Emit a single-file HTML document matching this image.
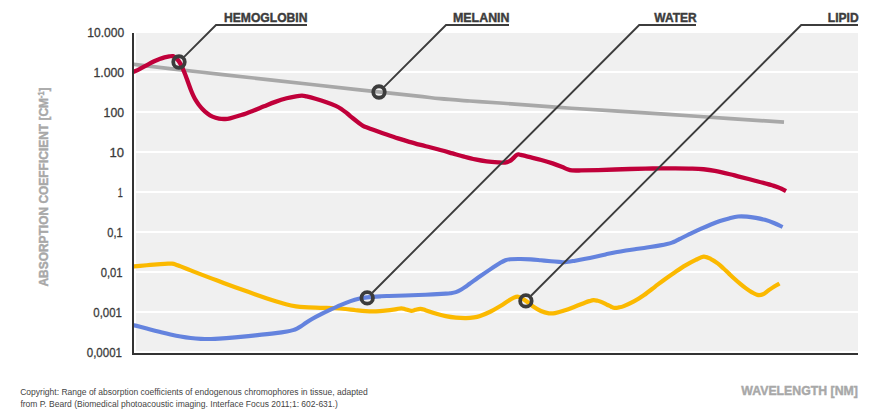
<!DOCTYPE html>
<html><head><meta charset="utf-8"><title>Absorption coefficients</title>
<style>html,body{margin:0;padding:0;background:#fff;width:890px;height:415px;overflow:hidden}svg{display:block}</style>
</head><body>
<svg width="890" height="415" viewBox="0 0 890 415">
<defs><clipPath id="pc"><rect x="134" y="0" width="760" height="415"/></clipPath></defs>
<rect x="136" y="33" width="722" height="318" fill="#f0f0f0"/>
<rect x="136" y="71" width="722" height="2" fill="#ffffff"/>
<rect x="136" y="111" width="722" height="2" fill="#ffffff"/>
<rect x="136" y="151" width="722" height="2" fill="#ffffff"/>
<rect x="136" y="191" width="722" height="2" fill="#ffffff"/>
<rect x="136" y="231" width="722" height="2" fill="#ffffff"/>
<rect x="136" y="271" width="722" height="2" fill="#ffffff"/>
<rect x="136" y="311" width="722" height="2" fill="#ffffff"/>
<g clip-path="url(#pc)" fill="none" stroke-linejoin="round">
<path d="M130 64C141.67 65.33 176.67 69.37 200 72C223.33 74.63 244.17 76.92 270 79.8C295.83 82.68 330.72 86.63 355 89.3C379.28 91.97 401.53 94.23 415.7 95.8C429.87 97.37 430.95 97.83 440 98.7C449.05 99.57 460 100.28 470 101C480 101.72 485.77 101.97 500 103C514.23 104.03 536.4 105.88 555.4 107.2C574.4 108.52 589.9 109.35 614 110.9C638.1 112.45 671.67 114.62 700 116.5C728.33 118.38 770 121.25 784 122.2" stroke="#a8a8a8" stroke-width="3.7"/>
<path d="M130 73.4C130.68 73.1 132.52 72.31 134.1 71.59C135.68 70.88 137.77 69.96 139.5 69.1C141.23 68.25 142.75 67.43 144.5 66.47C146.25 65.52 148.28 64.29 150 63.38C151.72 62.46 153.2 61.7 154.8 60.97C156.4 60.25 157.98 59.6 159.6 59.01C161.22 58.42 162.88 57.85 164.5 57.42C166.12 56.99 167.88 56.63 169.3 56.41C170.72 56.19 171.88 55.83 173 56.1C174.12 56.37 175.07 57.26 176 58.06C176.93 58.85 177.73 59.67 178.6 60.85C179.47 62.03 180.45 63.74 181.2 65.14C181.95 66.55 182.43 67.73 183.1 69.28C183.77 70.83 184.58 72.86 185.2 74.44C185.82 76.01 186.25 77.21 186.8 78.73C187.35 80.25 187.77 81.55 188.5 83.56C189.23 85.58 190.4 88.78 191.2 90.8C192 92.83 192.6 94.21 193.3 95.7C194 97.19 194.52 98.25 195.4 99.71C196.28 101.17 197.43 102.92 198.6 104.46C199.77 105.99 200.93 107.41 202.4 108.93C203.87 110.45 205.72 112.27 207.4 113.56C209.08 114.84 210.57 115.81 212.5 116.65C214.43 117.49 216.92 118.21 219 118.6C221.08 118.99 223.17 119.04 225 118.99C226.83 118.94 227.28 118.95 230 118.3C232.72 117.65 237.53 116.3 241.3 115.07C245.07 113.85 248.82 112.42 252.6 110.96C256.38 109.5 260.22 107.83 264 106.31C267.78 104.8 271.53 103.22 275.3 101.88C279.07 100.53 283.15 99.21 286.6 98.27C290.05 97.34 293.43 96.71 296 96.27C298.57 95.82 300.25 95.58 302 95.6C303.75 95.62 304.25 95.85 306.5 96.38C308.75 96.92 312.3 97.87 315.5 98.81C318.7 99.75 322.32 100.83 325.7 102.01C329.08 103.18 333.2 104.7 335.8 105.85C338.4 107 339.43 107.68 341.3 108.92C343.17 110.15 345.12 111.75 347 113.27C348.88 114.79 350.72 116.49 352.6 118.03C354.48 119.57 356.57 121.21 358.3 122.51C360.03 123.8 361.55 124.97 363 125.8C364.45 126.63 364.95 126.71 367 127.5C369.05 128.29 372.03 129.36 375.3 130.53C378.57 131.7 382.82 133.21 386.6 134.52C390.38 135.82 394.22 137.14 398 138.36C401.78 139.58 405.53 140.74 409.3 141.82C413.07 142.91 417.15 143.99 420.6 144.9C424.05 145.81 426.55 146.39 430 147.28C433.45 148.17 437.53 149.23 441.3 150.25C445.07 151.27 448.82 152.36 452.6 153.42C456.38 154.48 460.22 155.61 464 156.61C467.78 157.6 471.53 158.59 475.3 159.38C479.07 160.16 482.82 160.84 486.6 161.35C490.38 161.85 494.93 162.2 498 162.41C501.07 162.62 503.08 162.8 505 162.6C506.92 162.4 508.08 161.97 509.5 161.2C510.92 160.43 512.22 159.1 513.5 158C514.78 156.9 516.02 155.12 517.2 154.6C518.38 154.08 518.47 154.47 520.6 154.9C522.73 155.33 526.55 156.31 530 157.16C533.45 158.01 537.53 158.96 541.3 160C545.07 161.04 549.2 162.26 552.6 163.38C556 164.51 559.22 165.78 561.7 166.76C564.18 167.75 565.78 168.69 567.5 169.3C569.22 169.91 569.75 170.21 572 170.4C574.25 170.59 576.67 170.51 581 170.45C585.33 170.39 589.83 170.3 598 170.06C606.17 169.81 620.9 169.27 630 169C639.1 168.74 645.05 168.59 652.6 168.48C660.15 168.36 668.68 168.29 675.3 168.3C681.92 168.31 687.58 168.38 692.3 168.54C697.02 168.7 699.83 168.86 703.6 169.25C707.37 169.64 710.5 170.06 714.9 170.89C719.3 171.72 726.15 173.34 730 174.25C733.85 175.15 733.67 175.18 738 176.3C742.33 177.41 750.02 179.36 756 180.96C761.98 182.55 769.73 184.6 773.9 185.86C778.07 187.13 778.98 187.65 781 188.54C783.02 189.43 785.17 190.76 786 191.2" stroke="#c0003a" stroke-width="4.3"/>
<path d="M130 266.8C130.67 266.74 132.32 266.58 134 266.42C135.68 266.27 137.4 266.11 140.1 265.87C142.8 265.62 146.82 265.24 150.2 264.95C153.58 264.67 157.43 264.36 160.4 264.16C163.37 263.95 166.07 263.78 168 263.7C169.93 263.62 170.75 263.58 172 263.7C173.25 263.82 174.07 263.95 175.5 264.4C176.93 264.85 178.07 265.41 180.6 266.41C183.13 267.4 187.32 269.06 190.7 270.39C194.08 271.72 196.35 272.62 200.9 274.36C205.45 276.1 212.28 278.71 218 280.84C223.72 282.98 228.95 284.9 235.2 287.17C241.45 289.43 248.75 292.08 255.5 294.43C262.25 296.79 270.63 299.66 275.7 301.29C280.77 302.92 282.52 303.37 285.9 304.21C289.28 305.04 292.97 305.81 296 306.31C299.03 306.81 300.07 306.97 304.1 307.22C308.13 307.46 314.98 307.61 320.2 307.78C325.42 307.95 331.18 308.02 335.4 308.23C339.62 308.44 342.12 308.69 345.5 309.02C348.88 309.36 352.32 309.87 355.7 310.23C359.08 310.59 362.43 310.99 365.8 311.18C369.17 311.36 372.7 311.42 375.9 311.34C379.1 311.26 381.8 311 385 310.68C388.2 310.35 392.4 309.8 395.1 309.4C397.8 309 399.52 308.33 401.2 308.3C402.88 308.27 403.52 308.77 405.2 309.2C406.88 309.63 409.6 310.8 411.3 310.9C413 311 413.88 310.15 415.4 309.8C416.92 309.45 418.72 308.73 420.4 308.8C422.08 308.87 422.97 309.4 425.5 310.2C428.03 311 432.23 312.61 435.6 313.6C438.97 314.59 442.32 315.47 445.7 316.15C449.08 316.82 452.52 317.32 455.9 317.65C459.28 317.98 462.97 318.16 466 318.12C469.03 318.09 471.75 317.81 474.1 317.44C476.45 317.07 477.42 316.87 480.1 315.93C482.78 314.98 486.82 313.41 490.2 311.76C493.58 310.12 497.35 307.91 500.4 306.07C503.45 304.23 506.32 302.08 508.5 300.72C510.68 299.35 511.98 298.56 513.5 297.87C515.02 297.19 516.27 296.57 517.6 296.6C518.93 296.63 520.1 297.35 521.5 298.08C522.9 298.8 524.12 299.62 526 300.97C527.88 302.32 530.32 304.49 532.8 306.16C535.28 307.83 538.22 309.79 540.9 310.99C543.58 312.18 546.55 312.96 548.9 313.31C551.25 313.66 552.3 313.6 555 313.1C557.7 312.6 561.73 311.42 565.1 310.33C568.47 309.23 571.82 307.84 575.2 306.53C578.58 305.23 583.02 303.41 585.4 302.5C587.78 301.6 588.15 301.5 589.5 301.12C590.85 300.73 592.22 300.28 593.5 300.2C594.78 300.12 596.03 300.41 597.2 300.64C598.37 300.88 598.77 300.89 600.5 301.61C602.23 302.34 605.82 304.16 607.6 305.01C609.38 305.85 610.02 306.2 611.2 306.69C612.38 307.17 613.43 307.78 614.7 307.9C615.97 308.02 617.28 307.74 618.8 307.43C620.32 307.13 621.28 307.08 623.8 306.09C626.32 305.09 630.52 303.31 633.9 301.46C637.28 299.62 640.55 297.5 644.1 295.01C647.65 292.53 651.67 289.23 655.2 286.55C658.73 283.87 661.93 281.39 665.3 278.95C668.67 276.51 672.03 274.18 675.4 271.92C678.77 269.67 682.12 267.42 685.5 265.42C688.88 263.41 692.65 261.37 695.7 259.9C698.75 258.43 701.27 256.74 703.8 256.6C706.33 256.46 708.58 257.91 710.9 259.03C713.22 260.16 715.63 261.81 717.7 263.34C719.77 264.88 721.42 266.53 723.3 268.25C725.18 269.97 727.1 271.86 729 273.65C730.9 275.44 732.82 277.27 734.7 278.97C736.58 280.68 738.42 282.31 740.3 283.88C742.18 285.45 744.12 287.02 746 288.39C747.88 289.77 749.72 291.03 751.6 292.11C753.48 293.19 755.4 294.54 757.3 294.9C759.2 295.26 761.12 295.07 763 294.3C764.88 293.53 766.72 291.58 768.6 290.27C770.48 288.96 772.48 287.55 774.3 286.42C776.12 285.29 778.63 283.99 779.5 283.5" stroke="#fbb900" stroke-width="4.2"/>
<path d="M130 324.5C130.67 324.63 132.32 324.92 134 325.31C135.68 325.69 137.4 326.12 140.1 326.81C142.8 327.5 146.82 328.57 150.2 329.44C153.58 330.31 157.02 331.2 160.4 332.03C163.78 332.87 167.13 333.71 170.5 334.45C173.87 335.19 177.23 335.91 180.6 336.5C183.97 337.09 187.32 337.61 190.7 338C194.08 338.38 197.52 338.66 200.9 338.83C204.28 338.99 207.97 339.02 211 338.99C214.03 338.97 215.07 338.94 219.1 338.67C223.13 338.39 229.13 337.9 235.2 337.35C241.27 336.8 248.75 336.08 255.5 335.37C262.25 334.67 270.45 333.78 275.7 333.13C280.95 332.48 284.12 331.97 287 331.47C289.88 330.97 291.33 330.61 293 330.14C294.67 329.67 295.67 329.27 297 328.62C298.33 327.98 299.5 327.23 301 326.25C302.5 325.27 304.17 323.95 306 322.73C307.83 321.5 309.63 320.27 312 318.91C314.37 317.55 317.13 316.12 320.2 314.57C323.27 313.02 327.02 311.2 330.4 309.61C333.78 308.03 337.13 306.47 340.5 305.05C343.87 303.63 347.57 302.15 350.6 301.1C353.63 300.05 355.92 299.37 358.7 298.75C361.48 298.13 363.58 297.78 367.3 297.38C371.02 296.97 377.37 296.56 381 296.32C384.63 296.09 385.07 296.11 389.1 295.97C393.13 295.82 399.13 295.65 405.2 295.43C411.27 295.22 418.75 294.99 425.5 294.7C432.25 294.4 441.48 293.91 445.7 293.66C449.92 293.41 449.1 293.46 450.8 293.2C452.5 292.94 454.22 292.67 455.9 292.1C457.58 291.53 459.22 290.74 460.9 289.8C462.58 288.86 464.48 287.5 466 286.45C467.52 285.4 467.65 285.21 470 283.51C472.35 281.81 476.73 278.64 480.1 276.27C483.47 273.91 486.82 271.59 490.2 269.34C493.58 267.1 497.87 264.32 500.4 262.8C502.93 261.27 503.72 260.8 505.4 260.2C507.08 259.6 507.97 259.4 510.5 259.2C513.03 259 517.23 258.94 520.6 258.98C523.97 259.01 527.32 259.18 530.7 259.4C534.08 259.62 537.52 259.99 540.9 260.3C544.28 260.61 547.98 260.99 551 261.25C554.02 261.51 556.65 261.7 559 261.86C561.35 262.01 562.4 262.4 565.1 262.2C567.8 262 571.82 261.22 575.2 260.65C578.58 260.09 582.02 259.46 585.4 258.8C588.78 258.13 592.13 257.41 595.5 256.68C598.87 255.94 602.23 255.13 605.6 254.4C608.97 253.67 612.32 252.93 615.7 252.28C619.08 251.62 622.52 251.02 625.9 250.47C629.28 249.93 632.97 249.43 636 249.01C639.03 248.59 641.75 248.28 644.1 247.95C646.45 247.63 647.42 247.48 650.1 247.05C652.78 246.62 657.38 245.87 660.2 245.36C663.02 244.85 665.03 244.45 667 243.99C668.97 243.53 670.5 243.12 672 242.6C673.5 242.08 674.58 241.56 676 240.9C677.42 240.24 678.07 239.83 680.5 238.62C682.93 237.42 687.23 235.29 690.6 233.68C693.97 232.06 697.32 230.49 700.7 228.96C704.08 227.43 707.68 225.83 710.9 224.51C714.12 223.19 716.98 222.06 720 221.04C723.02 220.03 726 219.18 729 218.43C732 217.67 735 216.8 738 216.5C741 216.2 744 216.37 747 216.6C750 216.83 753.02 217.34 756 217.88C758.98 218.42 761.92 218.99 764.9 219.84C767.88 220.7 770.95 221.81 773.9 223.01C776.85 224.2 781.15 226.33 782.6 227" stroke="#6483de" stroke-width="4.1"/>
</g>
<rect x="132" y="33" width="2" height="322" fill="#333333"/>
<rect x="132" y="353" width="726" height="2" fill="#333333"/>
<path d="M184.13 56.87 L216 25 L307 25" fill="none" stroke="#3c3c3c" stroke-width="1.9" stroke-linejoin="miter"/>
<path d="M384.13 86.87 L446 25 L509 25" fill="none" stroke="#3c3c3c" stroke-width="1.9" stroke-linejoin="miter"/>
<path d="M372.32 292.77 L639.2 25 L696 25" fill="none" stroke="#3c3c3c" stroke-width="1.9" stroke-linejoin="miter"/>
<path d="M531.02 295.77 L801.2 25 L858 25" fill="none" stroke="#3c3c3c" stroke-width="1.9" stroke-linejoin="miter"/>
<circle cx="179" cy="62" r="5.75" fill="none" stroke="#3c3c3c" stroke-width="3.8"/>
<circle cx="379" cy="92" r="5.75" fill="none" stroke="#3c3c3c" stroke-width="3.8"/>
<circle cx="367.2" cy="297.9" r="5.75" fill="none" stroke="#3c3c3c" stroke-width="3.8"/>
<circle cx="525.9" cy="300.9" r="5.75" fill="none" stroke="#3c3c3c" stroke-width="3.8"/>
<text x="224" y="21.9" font-family="'Liberation Sans', Arial, sans-serif" font-weight="bold" font-size="13.6" fill="#3c3c3c" stroke="#3c3c3c" stroke-width="0.45" textLength="83.5" lengthAdjust="spacingAndGlyphs">HEMOGLOBIN</text>
<text x="453" y="21.9" font-family="'Liberation Sans', Arial, sans-serif" font-weight="bold" font-size="13.6" fill="#3c3c3c" stroke="#3c3c3c" stroke-width="0.45" textLength="56.5" lengthAdjust="spacingAndGlyphs">MELANIN</text>
<text x="654.3" y="21.9" font-family="'Liberation Sans', Arial, sans-serif" font-weight="bold" font-size="13.6" fill="#3c3c3c" stroke="#3c3c3c" stroke-width="0.45" textLength="42.5" lengthAdjust="spacingAndGlyphs">WATER</text>
<text x="827.8" y="21.9" font-family="'Liberation Sans', Arial, sans-serif" font-weight="bold" font-size="13.6" fill="#3c3c3c" stroke="#3c3c3c" stroke-width="0.45" textLength="30.8" lengthAdjust="spacingAndGlyphs">LIPID</text>
<text x="87.24" y="37.2" font-family="'Liberation Sans', Arial, sans-serif" font-size="13.2" fill="#3a3a3a" stroke="#3a3a3a" stroke-width="0.3" textLength="36.98" lengthAdjust="spacingAndGlyphs">10.000</text>
<text x="93.42" y="77.2" font-family="'Liberation Sans', Arial, sans-serif" font-size="13.2" fill="#3a3a3a" stroke="#3a3a3a" stroke-width="0.3" textLength="30.8" lengthAdjust="spacingAndGlyphs">1.000</text>
<text x="103.58" y="117.2" font-family="'Liberation Sans', Arial, sans-serif" font-size="13.2" fill="#3a3a3a" stroke="#3a3a3a" stroke-width="0.3" textLength="20.48" lengthAdjust="spacingAndGlyphs">100</text>
<text x="109.5" y="157.2" font-family="'Liberation Sans', Arial, sans-serif" font-size="13.2" fill="#3a3a3a" stroke="#3a3a3a" stroke-width="0.3" textLength="14.56" lengthAdjust="spacingAndGlyphs">10</text>
<text x="117.78" y="197.2" font-family="'Liberation Sans', Arial, sans-serif" font-size="13.2" fill="#3a3a3a" stroke="#3a3a3a" stroke-width="0.3" textLength="5" lengthAdjust="spacingAndGlyphs">1</text>
<text x="107.34" y="237.2" font-family="'Liberation Sans', Arial, sans-serif" font-size="13.2" fill="#3a3a3a" stroke="#3a3a3a" stroke-width="0.3" textLength="15.28" lengthAdjust="spacingAndGlyphs">0,1</text>
<text x="100.74" y="277.2" font-family="'Liberation Sans', Arial, sans-serif" font-size="13.2" fill="#3a3a3a" stroke="#3a3a3a" stroke-width="0.3" textLength="21.88" lengthAdjust="spacingAndGlyphs">0,01</text>
<text x="93.34" y="317.2" font-family="'Liberation Sans', Arial, sans-serif" font-size="13.2" fill="#3a3a3a" stroke="#3a3a3a" stroke-width="0.3" textLength="28.64" lengthAdjust="spacingAndGlyphs">0,001</text>
<text x="86.74" y="357.2" font-family="'Liberation Sans', Arial, sans-serif" font-size="13.2" fill="#3a3a3a" stroke="#3a3a3a" stroke-width="0.3" textLength="35.24" lengthAdjust="spacingAndGlyphs">0,0001</text>
<text transform="translate(47.8 286.6) rotate(-90)" font-family="'Liberation Sans', Arial, sans-serif" font-weight="bold" font-size="13.6" fill="#a8a8a8" stroke="#a8a8a8" stroke-width="0.45" textLength="199" lengthAdjust="spacingAndGlyphs">ABSORPTION COEFFICIENT [CM<tspan font-size="8.2" dy="-3.4">-1</tspan><tspan dy="3.4">]</tspan></text>
<text x="741.3" y="395.2" font-family="'Liberation Sans', Arial, sans-serif" font-weight="bold" font-size="13.6" fill="#a8a8a8" stroke="#a8a8a8" stroke-width="0.45" textLength="116.6" lengthAdjust="spacingAndGlyphs">WAVELENGTH [NM]</text>
<text x="20.2" y="394.7" font-family="'Liberation Sans', Arial, sans-serif" font-size="9.2" fill="#444444" textLength="347.6" lengthAdjust="spacingAndGlyphs">Copyright: Range of absorption coefficients of endogenous chromophores in tissue, adapted</text>
<text x="20.4" y="406.7" font-family="'Liberation Sans', Arial, sans-serif" font-size="9.2" fill="#444444" textLength="317.4" lengthAdjust="spacingAndGlyphs">from P. Beard (Biomedical photoacoustic imaging. Interface Focus 2011;1: 602-631.)</text>
</svg>
</body></html>
